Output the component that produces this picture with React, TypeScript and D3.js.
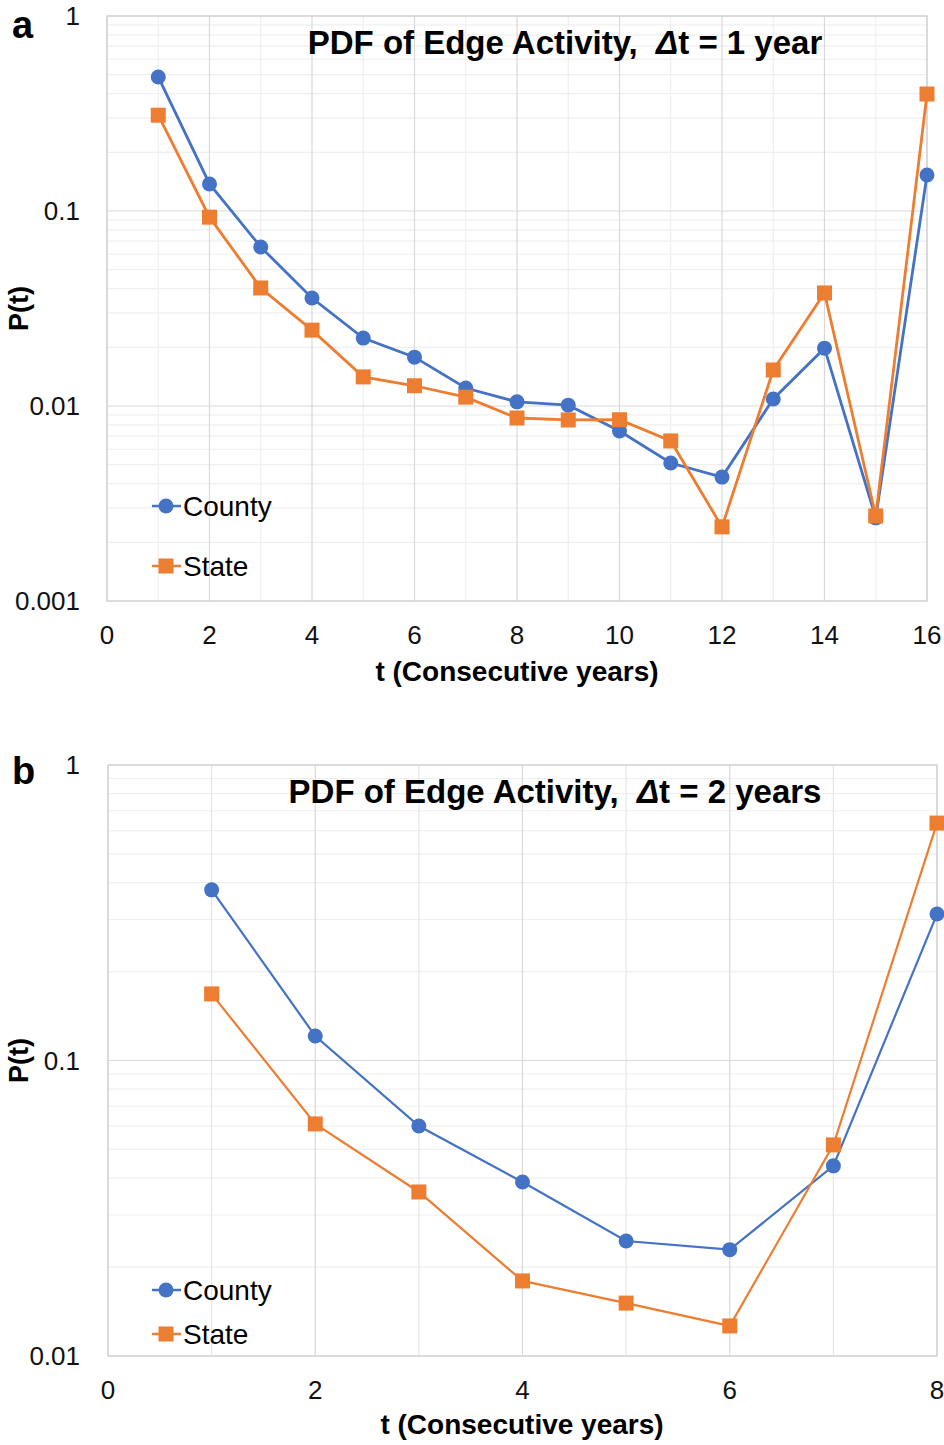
import React from "react";
import * as d3 from "d3";

const tA = [1, 2, 3, 4, 5, 6, 7, 8, 9, 10, 11, 12, 13, 14, 15, 16];
const countyA = [0.487, 0.1376, 0.0654, 0.0358, 0.0223, 0.0178, 0.01237, 0.0105, 0.0101, 0.00744, 0.0051, 0.00432, 0.01086, 0.0198, 0.00267, 0.153];
const stateA = [0.31, 0.093, 0.0403, 0.0245, 0.0141, 0.0127, 0.0111, 0.00868, 0.00848, 0.0085, 0.00662, 0.0024, 0.0153, 0.038, 0.00273, 0.398];
const xTicksA = [0, 2, 4, 6, 8, 10, 12, 14, 16];
const yTicksA = [0.001, 0.01, 0.1, 1];

const tB = [1, 2, 3, 4, 5, 6, 7, 8];
const countyB = [0.378, 0.121, 0.06, 0.0388, 0.0245, 0.0229, 0.044, 0.313];
const stateB = [0.168, 0.061, 0.0359, 0.01795, 0.0151, 0.01264, 0.0518, 0.636];
const xTicksB = [0, 2, 4, 6, 8];
const yTicksB = [0.01, 0.1, 1];

const BLUE = "#4472c4";
const ORANGE = "#ed7d31";
const FONT = "'Liberation Sans', Arial, sans-serif";

type PanelProps = {
  letter: string;
  titleNum: string;
  t: number[];
  county: number[];
  state: number[];
  xTicks: number[];
  yTicks: number[];
  xMax: number;
  yMin: number;
  left: number;
  right: number;
  top: number;
  bottom: number;
  minorX: boolean;
  titleX: number;
  titleY: number;
  letterY: number;
  xLabelY: number;
  xLabelX: number;
  legendY1: number;
  legendY2: number;
  lineW: number;
};

function Panel(p: PanelProps) {
  const x = d3.scaleLinear().domain([0, p.xMax]).range([p.left, p.right]);
  const y = d3.scaleLog().domain([p.yMin, 1]).range([p.bottom, p.top]);
  const minorY: number[] = [];
  for (let e = Math.log10(p.yMin); e < 0; e++) {
    for (let k = 2; k <= 9; k++) minorY.push(k * Math.pow(10, e));
  }
  const allX: number[] = d3.range(0, p.xMax + 1, 1);
  const line = d3
    .line<number>()
    .x((_, i) => x(p.t[i]))
    .y((d) => y(d));
  const sq = 15;
  const r = 7.5;
  return (
    <g>
      <text x={12} y={p.letterY} fontFamily={FONT} fontWeight="bold" fontSize={38}>
        {p.letter}
      </text>
      {minorY.map((v, i) => (
        <line key={"my" + i} x1={p.left} x2={p.right} y1={y(v)} y2={y(v)} stroke="#efefef" strokeWidth={1.2} />
      ))}
      {allX.map((v) => {
        const major = p.xTicks.includes(v);
        const stroke = major ? "#d9d9d9" : p.minorX ? "#efefef" : "#e6e6e6";
        return (
          <line key={"gx" + v} x1={x(v)} x2={x(v)} y1={p.top} y2={p.bottom} stroke={stroke} strokeWidth={1.2} />
        );
      })}
      {p.yTicks.map((v) => (
        <line key={"gy" + v} x1={p.left} x2={p.right} y1={y(v)} y2={y(v)} stroke="#d9d9d9" strokeWidth={1.2} />
      ))}
      <rect x={p.left} y={p.top} width={p.right - p.left} height={p.bottom - p.top} fill="none" stroke="#d0d0d0" strokeWidth={1.2} />
      {p.yTicks.map((v) => (
        <text key={"yl" + v} x={80} y={y(v)} dy="0.35em" textAnchor="end" fontFamily={FONT} fontSize={26} fill="#111">
          {String(v)}
        </text>
      ))}
      {p.xTicks.map((v) => (
        <text key={"xl" + v} x={x(v)} y={p.bottom + 43} textAnchor="middle" fontFamily={FONT} fontSize={26} fill="#111">
          {v}
        </text>
      ))}
      <text
        transform={`translate(28, ${(p.top + p.bottom) / 2}) rotate(-90)`}
        textAnchor="middle"
        fontFamily={FONT}
        fontWeight="bold"
        fontSize={27}
      >
        P(t)
      </text>
      <text x={p.xLabelX} y={p.xLabelY} textAnchor="middle" fontFamily={FONT} fontWeight="bold" fontSize={28}>
        t (Consecutive years)
      </text>
      <text
        x={p.titleX}
        y={p.titleY}
        textAnchor="middle"
        fontFamily={FONT}
        fontWeight="bold"
        fontSize={33}
        style={{ whiteSpace: "pre" }}
      >
        {"PDF of Edge Activity,  "}
        <tspan fontStyle="italic">Δ</tspan>
        {"t = " + p.titleNum}
      </text>
      <path d={line(p.county) || ""} fill="none" stroke={BLUE} strokeWidth={p.lineW} />
      <path d={line(p.state) || ""} fill="none" stroke={ORANGE} strokeWidth={p.lineW} />
      {p.county.map((v, i) => (
        <circle key={"c" + i} cx={x(p.t[i])} cy={y(v)} r={r} fill={BLUE} />
      ))}
      {p.state.map((v, i) => (
        <rect key={"s" + i} x={x(p.t[i]) - sq / 2} y={y(v) - sq / 2} width={sq} height={sq} fill={ORANGE} />
      ))}
      <line x1={152} x2={181} y1={p.legendY1} y2={p.legendY1} stroke={BLUE} strokeWidth={2.5} />
      <circle cx={166} cy={p.legendY1} r={r} fill={BLUE} />
      <text x={183} y={p.legendY1} dy="0.35em" fontFamily={FONT} fontSize={28}>
        County
      </text>
      <line x1={152} x2={181} y1={p.legendY2} y2={p.legendY2} stroke={ORANGE} strokeWidth={2.5} />
      <rect x={166 - sq / 2} y={p.legendY2 - sq / 2} width={sq} height={sq} fill={ORANGE} />
      <text x={183} y={p.legendY2} dy="0.35em" fontFamily={FONT} fontSize={28}>
        State
      </text>
    </g>
  );
}

export default function App() {
  return (
    <svg width={944} height={1445} style={{ display: "block", position: "absolute", left: 0, top: 0 }}>
      <rect width={944} height={1445} fill="#fff" />
      <Panel
        letter="a"
        titleNum="1 year"
        t={tA}
        county={countyA}
        state={stateA}
        xTicks={xTicksA}
        yTicks={yTicksA}
        xMax={16}
        yMin={0.001}
        left={107}
        right={927}
        top={16}
        bottom={601}
        minorX={true}
        titleX={565}
        titleY={54}
        letterY={38}
        xLabelX={517}
        xLabelY={681}
        legendY1={506}
        legendY2={566}
        lineW={2.8}
      />
      <Panel
        letter="b"
        titleNum="2 years"
        t={tB}
        county={countyB}
        state={stateB}
        xTicks={xTicksB}
        yTicks={yTicksB}
        xMax={8}
        yMin={0.01}
        left={108}
        right={937}
        top={765}
        bottom={1356}
        minorX={false}
        titleX={555}
        titleY={803}
        letterY={784}
        xLabelX={522}
        xLabelY={1434}
        legendY1={1290}
        legendY2={1334}
        lineW={2.2}
      />
    </svg>
  );
}
